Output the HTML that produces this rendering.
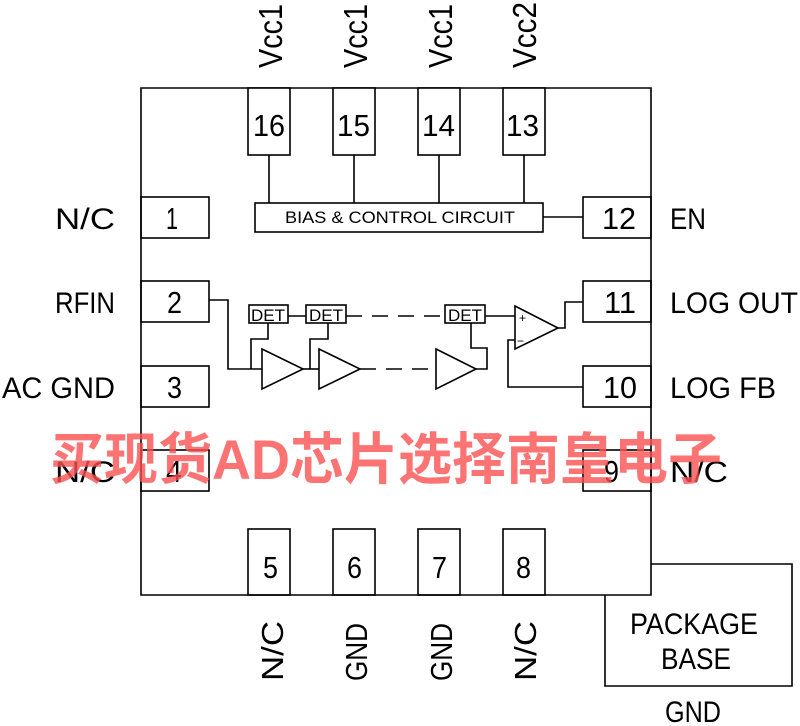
<!DOCTYPE html>
<html><head><meta charset="utf-8"><style>
html,body{margin:0;padding:0;background:#fff;}
svg{display:block;}
text{font-family:"Liberation Sans",sans-serif;fill:#000;}
</style></head><body>
<svg width="800" height="726" viewBox="0 0 800 726" xmlns="http://www.w3.org/2000/svg">
<g fill="none" stroke="#000" stroke-width="1.6">
<path d="M141 88 H651 V595 H141 Z"/>
<path d="M651 564 H792 V686 H605 V595"/>
<rect x="248" y="88" width="42" height="67" fill="#fff"/>
<rect x="333" y="88" width="42" height="67" fill="#fff"/>
<rect x="418" y="88" width="42" height="67" fill="#fff"/>
<rect x="503" y="88" width="42" height="67" fill="#fff"/>
<rect x="248" y="529" width="42" height="66"/>
<rect x="333" y="529" width="42" height="66"/>
<rect x="418" y="529" width="42" height="66"/>
<rect x="503" y="529" width="42" height="66"/>
<rect x="141" y="197" width="68" height="41"/>
<rect x="141" y="281" width="68" height="41"/>
<rect x="141" y="366" width="68" height="41"/>
<rect x="141" y="450" width="68" height="41"/>
<rect x="583" y="197" width="68" height="41"/>
<rect x="583" y="281" width="68" height="41"/>
<rect x="583" y="366" width="68" height="41"/>
<rect x="583" y="450" width="68" height="41"/>
<rect x="255" y="203" width="288" height="29"/>
<path d="M269 155V203 M354 155V203 M439 155V203 M524 155V203 M543 217H583"/>
<path d="M209 300H228V369H262"/>
<path d="M262 349L303 369L262 389Z"/>
<path d="M319 349L360 369L319 389Z"/>
<path d="M436 349L476 369L436 389Z"/>
<path d="M303 369H319"/>
<path d="M360 369H435" stroke-dasharray="16,10"/>
<rect x="249" y="305" width="39" height="18"/>
<rect x="306" y="305" width="40" height="18"/>
<rect x="445" y="305" width="40" height="18"/>
<path d="M288 316H306"/>
<path d="M346 316H445" stroke-dasharray="16,10"/>
<path d="M268 323V339H251V369"/>
<path d="M328 323V339H310V369"/>
<path d="M471 323V348H487V369H476"/>
<path d="M515 306L558 328L515 349Z"/>
<path d="M485 316H515"/>
<path d="M558 328H565V302H583"/>
<path d="M515 340H508V387H583"/>
</g>
<text x="519" y="322" font-size="12">+</text>
<text x="517" y="345" font-size="12">−</text>
<g font-size="17" lengthAdjust="spacingAndGlyphs">
<text x="251" y="321" textLength="34" lengthAdjust="spacingAndGlyphs">DET</text>
<text x="309" y="321" textLength="34" lengthAdjust="spacingAndGlyphs">DET</text>
<text x="448" y="321" textLength="34" lengthAdjust="spacingAndGlyphs">DET</text>
<text x="285" y="223" textLength="230" lengthAdjust="spacingAndGlyphs">BIAS &amp; CONTROL CIRCUIT</text>
</g>
<g font-size="31">
<text x="253" y="136" textLength="32" lengthAdjust="spacingAndGlyphs">16</text>
<text x="337" y="136" textLength="33" lengthAdjust="spacingAndGlyphs">15</text>
<text x="422" y="136" textLength="33" lengthAdjust="spacingAndGlyphs">14</text>
<text x="506" y="136" textLength="33" lengthAdjust="spacingAndGlyphs">13</text>
<text x="263" y="578" textLength="15" lengthAdjust="spacingAndGlyphs">5</text>
<text x="347" y="578" textLength="15" lengthAdjust="spacingAndGlyphs">6</text>
<text x="432" y="578" textLength="15" lengthAdjust="spacingAndGlyphs">7</text>
<text x="516" y="578" textLength="15" lengthAdjust="spacingAndGlyphs">8</text>
<text x="166" y="229" textLength="12" lengthAdjust="spacingAndGlyphs">1</text>
<text x="167" y="313" textLength="15" lengthAdjust="spacingAndGlyphs">2</text>
<text x="167" y="398" textLength="15" lengthAdjust="spacingAndGlyphs">3</text>
<text x="166" y="482" textLength="16" lengthAdjust="spacingAndGlyphs">4</text>
<text x="602" y="229" textLength="34" lengthAdjust="spacingAndGlyphs">12</text>
<text x="604" y="313" textLength="32" lengthAdjust="spacingAndGlyphs">11</text>
<text x="603" y="398" textLength="34" lengthAdjust="spacingAndGlyphs">10</text>
<text x="604" y="482" textLength="15" lengthAdjust="spacingAndGlyphs">9</text>
</g>
<g font-size="30">
<text x="55" y="229" textLength="60" lengthAdjust="spacingAndGlyphs">N/C</text>
<text x="55" y="313" textLength="60" lengthAdjust="spacingAndGlyphs">RFIN</text>
<text x="2" y="398" textLength="113" lengthAdjust="spacingAndGlyphs">AC  GND</text>
<text x="55" y="482" textLength="60" lengthAdjust="spacingAndGlyphs">N/C</text>
<text x="670" y="229" textLength="36" lengthAdjust="spacingAndGlyphs">EN</text>
<text x="670" y="313" textLength="128" lengthAdjust="spacingAndGlyphs">LOG  OUT</text>
<text x="670" y="398" textLength="106" lengthAdjust="spacingAndGlyphs">LOG  FB</text>
<text x="670" y="482" textLength="58" lengthAdjust="spacingAndGlyphs">N/C</text>
<text x="630" y="634" textLength="128" lengthAdjust="spacingAndGlyphs">PACKAGE</text>
<text x="661" y="669" textLength="70" lengthAdjust="spacingAndGlyphs">BASE</text>
<text x="665" y="722" textLength="56" lengthAdjust="spacingAndGlyphs">GND</text>
</g>
<g font-size="33">
<text transform="translate(282,68) rotate(-90)" textLength="64" lengthAdjust="spacingAndGlyphs">Vcc1</text>
<text transform="translate(367,68) rotate(-90)" textLength="64" lengthAdjust="spacingAndGlyphs">Vcc1</text>
<text transform="translate(452,68) rotate(-90)" textLength="64" lengthAdjust="spacingAndGlyphs">Vcc1</text>
<text transform="translate(536,68) rotate(-90)" textLength="66" lengthAdjust="spacingAndGlyphs">Vcc2</text>
</g>
<g font-size="31">
<text transform="translate(283,681) rotate(-90)" textLength="60" lengthAdjust="spacingAndGlyphs">N/C</text>
<text transform="translate(367,681) rotate(-90)" textLength="58" lengthAdjust="spacingAndGlyphs">GND</text>
<text transform="translate(452,681) rotate(-90)" textLength="58" lengthAdjust="spacingAndGlyphs">GND</text>
<text transform="translate(536,681) rotate(-90)" textLength="60" lengthAdjust="spacingAndGlyphs">N/C</text>
</g>
<text x="50" y="479" font-size="56" font-weight="bold" style="font-family:'Liberation Sans','Noto Sans CJK SC',sans-serif;fill:rgba(250,80,80,0.8)" textLength="672" lengthAdjust="spacingAndGlyphs">买现货AD芯片选择南皇电子</text>
</svg>
</body></html>
